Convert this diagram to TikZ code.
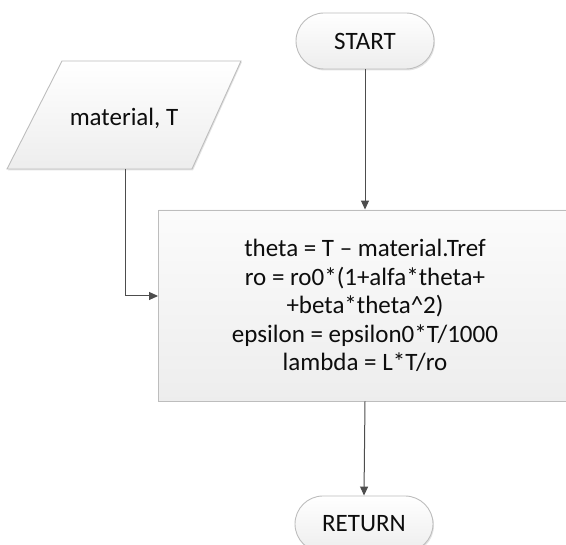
\documentclass[tikz,border=0pt]{standalone}
\usepackage{fontspec}
\setmainfont{Carlito}
\usetikzlibrary{arrows.meta,shadows}
\definecolor{edge}{HTML}{BDBDBD}
\definecolor{wire}{HTML}{4D4D4D}
\definecolor{ink}{HTML}{0D0D0D}
\tikzset{
  shapebase/.style={draw=edge, line width=0.9pt, top color=white, bottom color=gray!14,
    text=ink, font=\fontsize{25}{28.5}\selectfont,
    drop shadow={shadow xshift=1pt, shadow yshift=-1.5pt, fill=gray!35, opacity=0.6}},
  terminal/.style={shapebase, rounded corners=28pt, minimum width=138pt, minimum height=56pt, inner sep=0pt},
  procbox/.style={shapebase, minimum width=413pt, minimum height=191pt, align=center, inner sep=0pt, top color=gray!3, bottom color=gray!14},
  wirestyle/.style={draw=wire, line width=1pt, -{Triangle[length=9pt,width=8pt]}},
  iotext/.style={text=ink, font=\fontsize{25}{28.5}\selectfont}
}
\begin{document}
\begin{tikzpicture}[x=1pt,y=1pt]
\useasboundingbox (0,0) rectangle (566,545);
\clip (0,0) rectangle (566,545);
% input parallelogram
\fill[gray!35, opacity=0.6] (63,483) -- (242,483) -- (193,374.5) -- (8,374.5) -- cycle;
\draw[draw=edge, line width=0.9pt, top color=white, bottom color=gray!14]
  (62,484) -- (241,484) -- (192,376) -- (7,376) -- cycle;
\node[iotext] (inp) at (124,427) {material, T};
\coordinate (pbot) at (125,376);
% start
\node[terminal] (start) at (365,504) {START};
% process
\node[procbox] (proc) at (365,239.5) {theta = T -- material.Tref\\ro = ro0*(1+alfa*theta+\\+beta*theta\textasciicircum2)\\epsilon = epsilon0*T/1000\\lambda = L*T/ro};
% return
\node[terminal] (ret) at (364,21) {RETURN};
% connectors
\draw[wirestyle] (start.south) -- (proc.north);
\draw[wirestyle] (pbot) |- ([yshift=9.5pt]proc.west);
\draw[wirestyle] (proc.south) -- (ret.north);
\end{tikzpicture}
\end{document}
